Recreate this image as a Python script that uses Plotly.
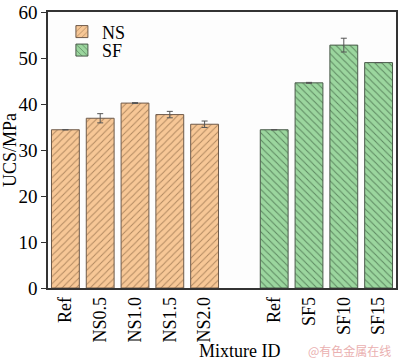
import plotly.graph_objects as go

ns_labels = ["Ref", "NS0.5", "NS1.0", "NS1.5", "NS2.0"]
ns_values = [34.4, 36.9, 40.2, 37.7, 35.6]
ns_errors = [0.0, 1.0, 0.1, 0.7, 0.7]

sf_labels = ["Ref", "SF5", "SF10", "SF15"]
sf_values = [34.4, 44.6, 52.8, 49.0]
sf_errors = [0.0, 0.1, 1.5, 0.0]

y_ticks = [0, 10, 20, 30, 40, 50, 60]

ns_pos = list(range(len(ns_labels)))
sf_pos = [len(ns_labels) + 1 + i for i in range(len(sf_labels))]

font_serif = "Liberation Serif"

fig = go.Figure()
fig.add_trace(go.Bar(
    x=ns_pos, y=ns_values, name="NS", width=0.8, legend="legend",
    marker=dict(color="#F7C796", line=dict(color="#6e5a4a", width=1),
                pattern=dict(shape="/", fgcolor="#6b4a2a", size=5, solidity=0.2)),
    error_y=dict(type="data", array=ns_errors, color="#555555", thickness=1, width=3),
))
fig.add_trace(go.Bar(
    x=sf_pos, y=sf_values, name="SF", width=0.8, legend="legend2",
    marker=dict(color="#9BD69E", line=dict(color="#4a5a4a", width=1),
                pattern=dict(shape="\\", fgcolor="#1f3a22", size=5, solidity=0.2)),
    error_y=dict(type="data", array=sf_errors, color="#555555", thickness=1, width=3),
))

legend_style = dict(xanchor="left", yanchor="top", bgcolor="rgba(0,0,0,0)",
                    font=dict(size=18, family=font_serif), itemwidth=30)

fig.update_layout(
    width=400, height=362,
    margin=dict(l=47, r=2, t=7, b=74),
    paper_bgcolor="white", plot_bgcolor="#fdfdfd",
    font=dict(family=font_serif, size=18, color="black"),
    showlegend=True,
    legend=dict(x=0.04, y=0.995, **legend_style),
    legend2=dict(x=0.04, y=0.928, **legend_style),
    bargap=0.2,
)
fig.update_xaxes(
    range=[-0.5, 9.5], tickvals=ns_pos + sf_pos, ticktext=ns_labels + sf_labels,
    tickangle=-90, ticks="", showline=True, linecolor="#333333", linewidth=1.5,
    mirror=True, showgrid=False, zeroline=False, tickfont=dict(size=18),
)
fig.update_yaxes(
    range=[0, 60], tickvals=y_ticks, ticks="outside", ticklen=5, tickcolor="#333333",
    showline=True, linecolor="#333333", linewidth=1.5, mirror=True,
    showgrid=False, zeroline=False, tickfont=dict(size=19),
    ticklabeloverflow="allow",
    title=dict(text="UCS/MPa", font=dict(size=18), standoff=4),
)
fig.add_annotation(text="Mixture ID", xref="x", x=5.0, yref="paper", y=-0.185,
                   xanchor="center", yanchor="top", showarrow=False,
                   font=dict(size=18, family=font_serif))
fig.add_annotation(text="@有色金属在线", xref="paper", x=0.99, yref="paper", y=-0.19,
                   xanchor="right", yanchor="top", showarrow=False,
                   font=dict(size=12, family="Noto Sans CJK SC", color="#eab0b0"))

fig.write_html("out.html", config={"displayModeBar": False},
               post_script="document.body.style.margin='0';")
